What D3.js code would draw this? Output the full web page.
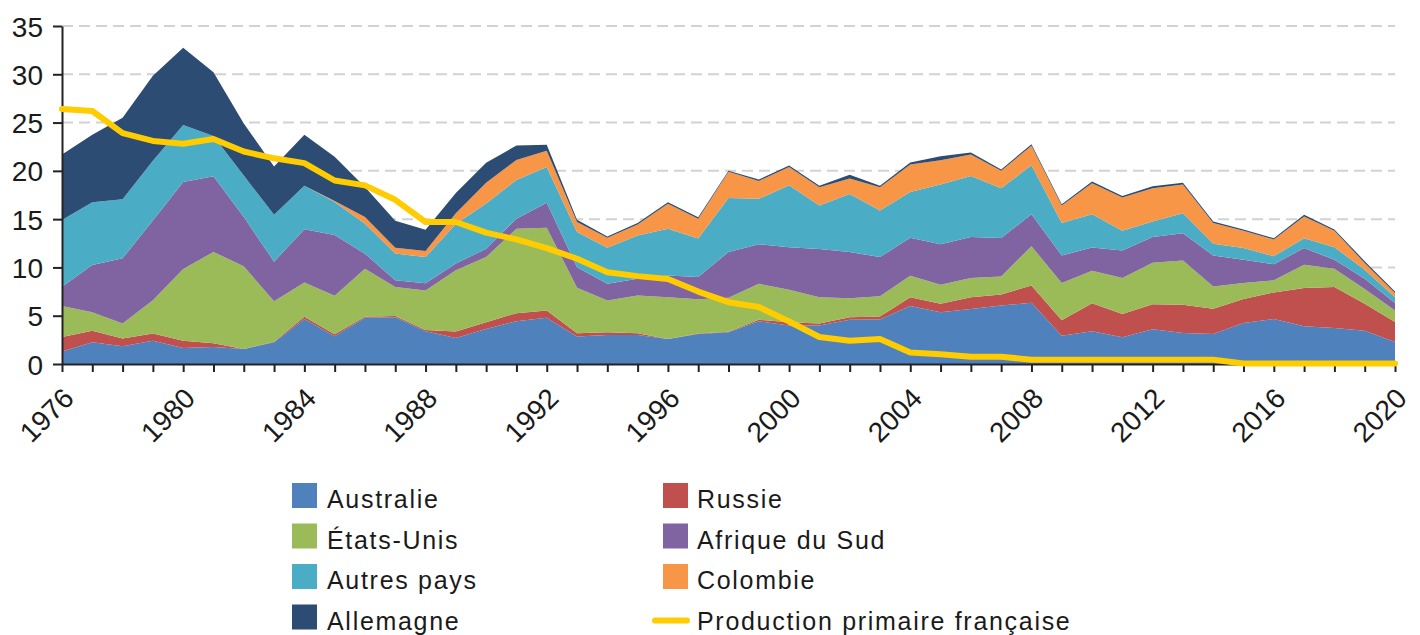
<!DOCTYPE html>
<meta charset="utf-8">
<style>
  body { margin: 0; background: #fff; }
  svg { display: block; font-family: "Liberation Sans", Arial, Helvetica, sans-serif; }
  .grid line { stroke: #d2d2d2; stroke-width: 2px; stroke-dasharray: 11,6; }
  .axis path, .axis line { stroke: #222; stroke-width: 2px; }
  .axis text { font-size: 28px; fill: #1a1a1a; }
  .legend text { font-size: 25px; letter-spacing: 1.7px; fill: #1a1a1a; }
</style>
<svg width="1420" height="635"></svg>
<script src="https://cdn.jsdelivr.net/npm/d3@7/dist/d3.min.js"></script>
<script>
  var years = d3.range(1976, 2021);
  var keys = ["Australie", "Russie", "États-Unis", "Afrique du Sud", "Autres pays", "Colombie", "Allemagne"];
  var colors = ["#4f81bd", "#c0504d", "#9bbb59", "#8064a2", "#4bacc6", "#f79646", "#2d4c73"];

  // one value per year, 1976 -> 2020
  var australie = [1.3, 2.25, 1.85, 2.4, 1.65, 1.75, 1.56, 2.25, 4.65, 2.87,
    4.78, 4.84, 3.39, 2.7, 3.63, 4.43, 4.78, 2.84, 3.0, 3.0,
    2.6, 3.1, 3.28, 4.43, 3.98, 3.98, 4.57, 4.6, 6.0, 5.36,
    5.7, 6.06, 6.33, 2.93, 3.38, 2.76, 3.59, 3.2, 3.1, 4.24,
    4.66, 3.9, 3.72, 3.45, 2.28];
  var russie = [1.5, 1.2, 0.8, 0.75, 0.75, 0.4, 0, 0.05, 0.25, 0.2,
    0.12, 0.14, 0.14, 0.66, 0.7, 0.83, 0.76, 0.34, 0.28, 0.18,
    0, 0.05, 0.07, 0.14, 0.35, 0.22, 0.27, 0.31, 0.9, 0.87,
    1.2, 1.14, 1.8, 1.59, 2.92, 2.41, 2.61, 2.94, 2.62, 2.48,
    2.75, 3.96, 4.25, 2.79, 2.06];
  var etatsUnis = [3.2, 1.9, 1.55, 3.45, 7.45, 9.45, 8.55, 4.2, 3.55, 4.0,
    4.96, 3.0, 4.07, 6.34, 6.74, 8.74, 8.56, 4.72, 3.29, 3.91,
    4.3, 3.55, 3.5, 3.73, 3.35, 2.7, 1.96, 2.11, 2.23, 1.97,
    2.0, 1.87, 4.07, 3.86, 3.36, 3.73, 4.28, 4.58, 2.31, 1.66,
    1.25, 2.42, 1.89, 1.52, 1.21];
  var afriqueDuSud = [2.0, 4.9, 6.75, 8.25, 9.0, 7.85, 5.1, 4.1, 5.5, 6.3,
    1.56, 0.7, 0.77, 0.7, 0.86, 1.05, 2.6, 2.13, 1.73, 1.73,
    2.27, 2.3, 4.75, 4.1, 4.42, 5.0, 4.8, 4.05, 3.95, 4.2,
    4.25, 3.97, 3.3, 2.86, 2.41, 2.86, 2.66, 2.83, 3.21, 2.42,
    1.68, 1.72, 0.94, 1.07, 0.76];
  var autresPays = [6.9, 6.5, 6.1, 6.2, 5.9, 4.15, 4.3, 4.85, 4.5, 3.4,
    3.1, 2.75, 2.7, 4.1, 4.7, 4.0, 3.7, 3.64, 3.74, 4.48,
    4.83, 4.0, 5.6, 4.7, 6.4, 4.5, 6.0, 4.83, 4.72, 6.2,
    6.33, 5.16, 5.08, 3.36, 3.43, 2.04, 1.62, 2.05, 1.21, 1.2,
    0.83, 1.03, 1.3, 0.93, 0.59];
  var colombie = [0, 0, 0, 0, 0, 0, 0, 0, 0, 0.1,
    0.7, 0.6, 0.63, 1.1, 2.15, 2.07, 1.67, 1.03, 1.04, 1.15,
    2.6, 2.05, 2.7, 1.86, 1.9, 1.9, 1.6, 2.4, 2.87, 2.5,
    2.22, 1.8, 2.02, 1.8, 3.22, 3.44, 3.44, 3.0, 2.15, 1.8,
    1.73, 2.25, 1.7, 0.69, 0.44];
  var allemagne = [6.8, 7.0, 8.45, 8.8, 8.0, 6.6, 5.4, 5.0, 5.3, 4.6,
    3.1, 2.8, 2.2, 2.1, 2.05, 1.5, 0.63, 0.25, 0.12, 0.15,
    0.14, 0.15, 0.1, 0.14, 0.16, 0.15, 0.4, 0.15, 0.2, 0.4,
    0.2, 0.14, 0.16, 0.15, 0.18, 0.16, 0.2, 0.16, 0.16, 0.13,
    0.13, 0.17, 0.13, 0.2, 0.16];
  var productionFr = [26.4, 26.2, 23.9, 23.1, 22.8, 23.3, 22.0, 21.3, 20.8, 19.0,
    18.5, 17.0, 14.7, 14.7, 13.6, 12.9, 12.0, 10.9, 9.5, 9.1,
    8.8, 7.5, 6.4, 5.9, 4.4, 2.8, 2.4, 2.6, 1.2, 1.0,
    0.75, 0.75, 0.45, 0.45, 0.45, 0.45, 0.45, 0.45, 0.45, 0.05,
    0.05, 0.05, 0.05, 0.05, 0.05];
  var yTicks = [0, 5, 10, 15, 20, 25, 30, 35];

  var series = [australie, russie, etatsUnis, afriqueDuSud, autresPays, colombie, allemagne];
  var table = years.map(function(y, i) {
    var row = { year: y };
    keys.forEach(function(k, j) { row[k] = series[j][i]; });
    return row;
  });

  var svg = d3.select("svg");
  var x = d3.scaleLinear().domain([1976, 2020]).range([62, 1395]);
  var y = d3.scaleLinear().domain([0, 35]).range([364, 26]);

  // dashed grid
  svg.append("g").attr("class", "grid")
    .selectAll("line").data(yTicks.slice(1)).enter().append("line")
    .attr("x1", x(1976)).attr("x2", x(2020))
    .attr("y1", function(d) { return y(d); })
    .attr("y2", function(d) { return y(d); });

  var stacked = d3.stack().keys(keys)(table);
  var area = d3.area()
    .x(function(d) { return x(d.data.year); })
    .y0(function(d) { return y(d[0]); })
    .y1(function(d) { return y(d[1]); });

  svg.append("g").selectAll("path").data(stacked).enter().append("path")
    .attr("d", area)
    .attr("fill", function(d, i) { return colors[i]; });

  // axes
  svg.append("g").attr("class", "axis")
    .attr("transform", "translate(62,0)")
    .call(d3.axisLeft(y).tickValues(yTicks).tickSize(9).tickPadding(10).tickSizeOuter(0))
    .call(function(g) { g.selectAll("text").attr("dy", "0.36em"); });

  var xAxis = svg.append("g").attr("class", "axis")
    .attr("transform", "translate(0,364)")
    .call(d3.axisBottom(x).tickValues(years).tickSize(8).tickSizeOuter(0)
      .tickFormat(function(d) { return (d - 1976) % 4 === 0 ? d : ""; }));
  xAxis.selectAll("text")
    .attr("x", 0).attr("y", 0).attr("dy", 0)
    .attr("text-anchor", "end")
    .attr("transform", "translate(13,36) rotate(-45)");

  // french production line
  var line = d3.line()
    .x(function(d, i) { return x(years[i]); })
    .y(function(d) { return y(d); });
  svg.append("path").datum(productionFr)
    .attr("d", line)
    .attr("fill", "none")
    .attr("stroke", "#ffcc00")
    .attr("stroke-width", 6)
    .attr("stroke-linejoin", "round")
    .attr("stroke-linecap", "round");

  // legend
  var legendItems = [
    { name: "Australie", color: colors[0], col: 0, row: 0 },
    { name: "États-Unis", color: colors[2], col: 0, row: 1 },
    { name: "Autres pays", color: colors[4], col: 0, row: 2 },
    { name: "Allemagne", color: colors[6], col: 0, row: 3 },
    { name: "Russie", color: colors[1], col: 1, row: 0 },
    { name: "Afrique du Sud", color: colors[3], col: 1, row: 1 },
    { name: "Colombie", color: colors[5], col: 1, row: 2 },
    { name: "Production primaire française", color: "#ffcc00", col: 1, row: 3, line: true }
  ];
  var colX = [292, 663];
  var legend = svg.append("g").attr("class", "legend");
  var item = legend.selectAll("g").data(legendItems).enter().append("g")
    .attr("transform", function(d) { return "translate(" + colX[d.col] + "," + (483 + d.row * 40.5) + ")"; });
  item.filter(function(d) { return !d.line; }).append("rect")
    .attr("width", 25).attr("height", 25)
    .attr("fill", function(d) { return d.color; });
  item.filter(function(d) { return d.line; }).append("line")
    .attr("x1", -8).attr("x2", 24).attr("y1", 16).attr("y2", 16)
    .attr("stroke", function(d) { return d.color; })
    .attr("stroke-width", 6).attr("stroke-linecap", "round");
  item.append("text")
    .attr("x", function(d) { return d.col ? 34 : 35; })
    .attr("y", 25)
    .text(function(d) { return d.name; });
</script>
